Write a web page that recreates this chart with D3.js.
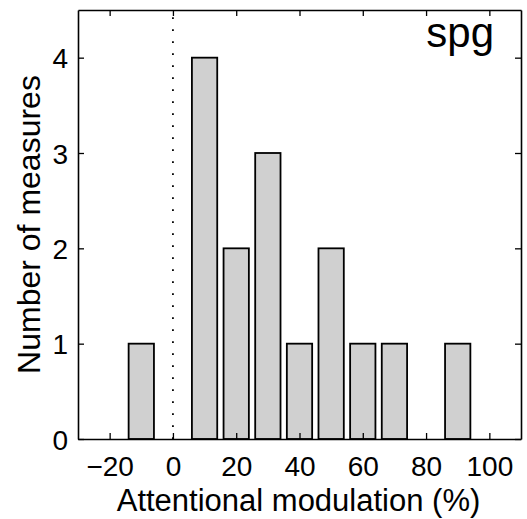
<!DOCTYPE html>
<html>
<head>
<meta charset="utf-8">
<script src="https://cdn.jsdelivr.net/npm/d3@7"></script>
<style>
  body { margin: 0; background: #fff; }
  text { font-family: "Liberation Sans", Arial, sans-serif; fill: #000; }
</style>
</head>
<body>
<svg id="svg"></svg>
<script>
const binCenters = [-10, 10, 20, 30, 40, 50, 60, 70, 90];
const counts = [1, 4, 2, 3, 1, 2, 1, 1, 1];
const binWidth = 8;
const xTicks = [-20, 0, 20, 40, 60, 80, 100];
const yTicks = [0, 1, 2, 3, 4];
const xLabel = 'Attentional modulation (%)';
const yLabel = 'Number of measures';
const panelLabel = 'spg';

const width = 527;
const height = 519;
const margin = { top: 10, right: 6, bottom: 80, left: 78 };

const svg = d3.select('#svg')
  .attr('width', width)
  .attr('height', height);

const x = d3.scaleLinear()
  .domain([-30, 110])
  .range([margin.left, width - margin.right]);

const y = d3.scaleLinear()
  .domain([0, 4.5])
  .range([height - margin.bottom, margin.top]);

// dotted zero line
svg.append('line')
  .attr('x1', x(0)).attr('x2', x(0))
  .attr('y1', y(0)).attr('y2', y(4.5))
  .attr('stroke', '#000')
  .attr('stroke-width', 1.8)
  .attr('stroke-dasharray', '1.8,10.2');

// bars
svg.selectAll('rect.bar')
  .data(binCenters)
  .enter()
  .append('rect')
  .attr('class', 'bar')
  .attr('x', d => x(d - binWidth / 2))
  .attr('width', d => x(d + binWidth / 2) - x(d - binWidth / 2))
  .attr('y', (d, i) => y(counts[i]))
  .attr('height', (d, i) => y(0) - y(counts[i]))
  .attr('fill', '#d0d0d0')
  .attr('stroke', '#000')
  .attr('stroke-width', 1.8);

// axes box with inward ticks
const tickLen = 6;
const axBottom = svg.append('g')
  .attr('transform', `translate(0,${y(0)})`)
  .call(d3.axisBottom(x).tickValues(xTicks).tickSizeInner(-tickLen).tickSizeOuter(0).tickPadding(17).tickFormat(d => d < 0 ? '\u2212' + Math.abs(d) : d));
const axTop = svg.append('g')
  .attr('transform', `translate(0,${y(4.5)})`)
  .call(d3.axisTop(x).tickValues(xTicks).tickSizeInner(-tickLen).tickSizeOuter(0).tickFormat(''));
const axLeft = svg.append('g')
  .attr('transform', `translate(${x(-30)},0)`)
  .call(d3.axisLeft(y).tickValues(yTicks).tickSizeInner(-tickLen).tickSizeOuter(0).tickPadding(10).tickFormat(d3.format('d')));
const axRight = svg.append('g')
  .attr('transform', `translate(${x(110)},0)`)
  .call(d3.axisRight(y).tickValues(yTicks).tickSizeInner(-tickLen).tickSizeOuter(0).tickFormat(''));

[axBottom, axTop, axLeft, axRight].forEach(g => {
  g.attr('font-size', 28).attr('font-family', '"Liberation Sans", Arial, sans-serif');
  g.select('.domain').attr('stroke', '#000').attr('stroke-width', 1.6);
  g.selectAll('.tick line').attr('stroke', '#000').attr('stroke-width', 1.3);
  g.selectAll('.tick text').attr('fill', '#000');
});
axLeft.selectAll('.tick text').attr('dy', '0.36em');
axBottom.selectAll('.tick text').attr('dy', '0.72em');

svg.append('text')
  .attr('x', (x(-30) + x(110)) / 2 - 1)
  .attr('y', 511)
  .attr('text-anchor', 'middle')
  .attr('font-size', 31)
  .text(xLabel);

svg.append('text')
  .attr('transform', `translate(40,${(y(0) + y(4.5)) / 2}) rotate(-90)`)
  .attr('text-anchor', 'middle')
  .attr('font-size', 32)
  .text(yLabel);

svg.append('text')
  .attr('x', 494)
  .attr('y', 47)
  .attr('text-anchor', 'end')
  .attr('font-size', 42)
  .text(panelLabel);
</script>
</body>
</html>
